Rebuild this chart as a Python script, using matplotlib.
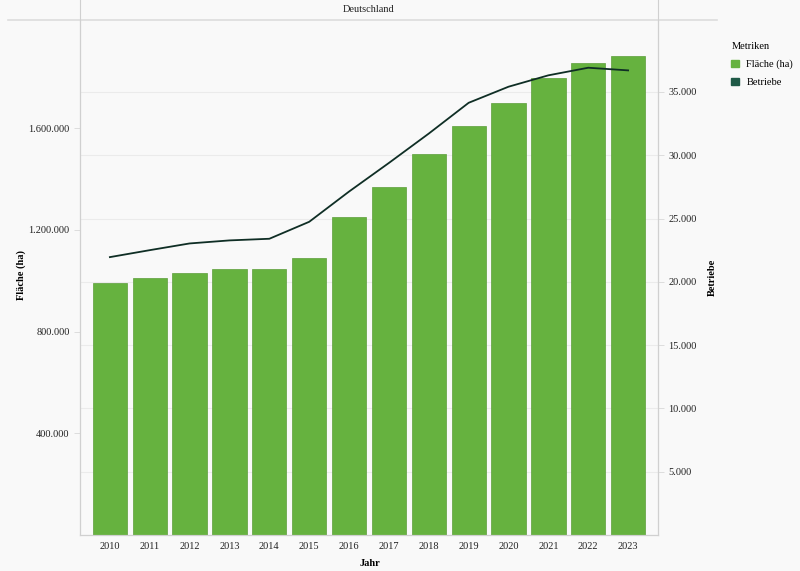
import matplotlib
matplotlib.use("Agg")
import matplotlib.pyplot as plt
from matplotlib.patches import Patch
from matplotlib.lines import Line2D
from matplotlib.ticker import FuncFormatter, FixedLocator

years = ["2010", "2011", "2012", "2013", "2014", "2015", "2016",
         "2017", "2018", "2019", "2020", "2021", "2022", "2023"]
flaeche = [990000, 1012000, 1030000, 1045000, 1045000, 1088000, 1249000,
           1370000, 1497000, 1610000, 1700000, 1798000, 1855000, 1883000]
betriebe = [21950, 22500, 23030, 23270, 23400, 24740, 27130,
            29390, 31710, 34140, 35410, 36310, 36910, 36700]
left_ticks = [400000, 800000, 1200000, 1600000]
right_ticks = [5000, 10000, 15000, 20000, 25000, 30000, 35000]

BG = "#f9f9f9"
BAR = "#66b23f"
LINE = "#0f2e25"
LEG2 = "#1f5a47"
AXC = "#d0d0d0"
LEFT_MAX = 2025000
RIGHT_MAX = 40680

plt.rcParams["font.family"] = ["Liberation Serif", "DejaVu Serif"]
plt.rcParams["font.size"] = 7.5

fig = plt.figure(figsize=(8, 5.71), dpi=100, facecolor=BG)
ax = fig.add_axes([80/800, 1-535/571, (658-80)/800, (535-20)/571])
ax.set_facecolor(BG)
ax2 = ax.twinx()

def dotfmt(v, pos):
    return f"{int(round(v)):,}".replace(",", ".")

x = list(range(len(years)))
ax.bar(x, flaeche, width=0.86, color=BAR, edgecolor="#5c9e3a", linewidth=0.5, zorder=2)
ax.set_xlim(-0.75, len(years) - 0.25)
ax.set_ylim(0, LEFT_MAX)
ax.set_xticks(x)
ax.set_xticklabels(years)
ax.yaxis.set_major_locator(FixedLocator(left_ticks))
ax.yaxis.set_major_formatter(FuncFormatter(dotfmt))

# horizontal grid at right-axis ticks, behind bars
for t in right_ticks:
    ax.axhline(t * LEFT_MAX / RIGHT_MAX, color="#ebebeb", linewidth=0.8, zorder=0)

ax2.plot(x, betriebe, color=LINE, linewidth=1.3, zorder=3)
ax2.set_ylim(0, RIGHT_MAX)
ax2.yaxis.set_major_locator(FixedLocator(right_ticks))
ax2.yaxis.set_major_formatter(FuncFormatter(dotfmt))
ax2.patch.set_visible(False)

for a in (ax, ax2):
    a.spines["top"].set_visible(False)
    for s in ("left", "right", "bottom"):
        a.spines[s].set_color(AXC)
        a.spines[s].set_linewidth(0.8)
    a.tick_params(axis="both", colors="#222222", labelsize=7.5, length=4, width=0.6)
    a.tick_params(axis="y", color="#d8d8d8")
ax.tick_params(axis="x", length=0, pad=5)

ax.set_ylabel("Fläche (ha)", fontweight="bold", fontsize=7.5)
ax.yaxis.set_label_coords((26-80)/578, 0.505)
ax2.set_ylabel("Betriebe", fontweight="bold", fontsize=7.5)
ax2.yaxis.set_label_coords((708-80)/578, 0.50)
ax.set_xlabel("Jahr", fontweight="bold", fontsize=7.5)
ax.xaxis.set_label_coords((370-80)/578, (535-559)/515)

# header band
fig.add_artist(Line2D([8/800, 717/800], [1-20/571, 1-20/571], color="#dddddd", linewidth=1.2))
fig.add_artist(Line2D([80/800, 80/800], [1-20/571, 1], color=AXC, linewidth=0.8))
fig.add_artist(Line2D([658/800, 658/800], [1-20/571, 1], color=AXC, linewidth=0.8))
fig.text(369/800, 1-9/571, "Deutschland", ha="center", va="center", fontsize=7.5, color="#222222")

handles = [Patch(facecolor=BAR, edgecolor=BAR, label="Fläche (ha)"),
           Patch(facecolor=LEG2, edgecolor=LEG2, label="Betriebe")]
leg = fig.legend(handles=handles, title="Metriken", loc="upper left",
                 bbox_to_anchor=(722/800, 1-33/571), frameon=False,
                 fontsize=7.5, title_fontsize=7.5, handlelength=0.75,
                 handleheight=0.75, handletextpad=0.7, labelspacing=0.8)
leg._legend_box.align = "left"

fig.savefig("out.png", dpi=100, facecolor=BG)
